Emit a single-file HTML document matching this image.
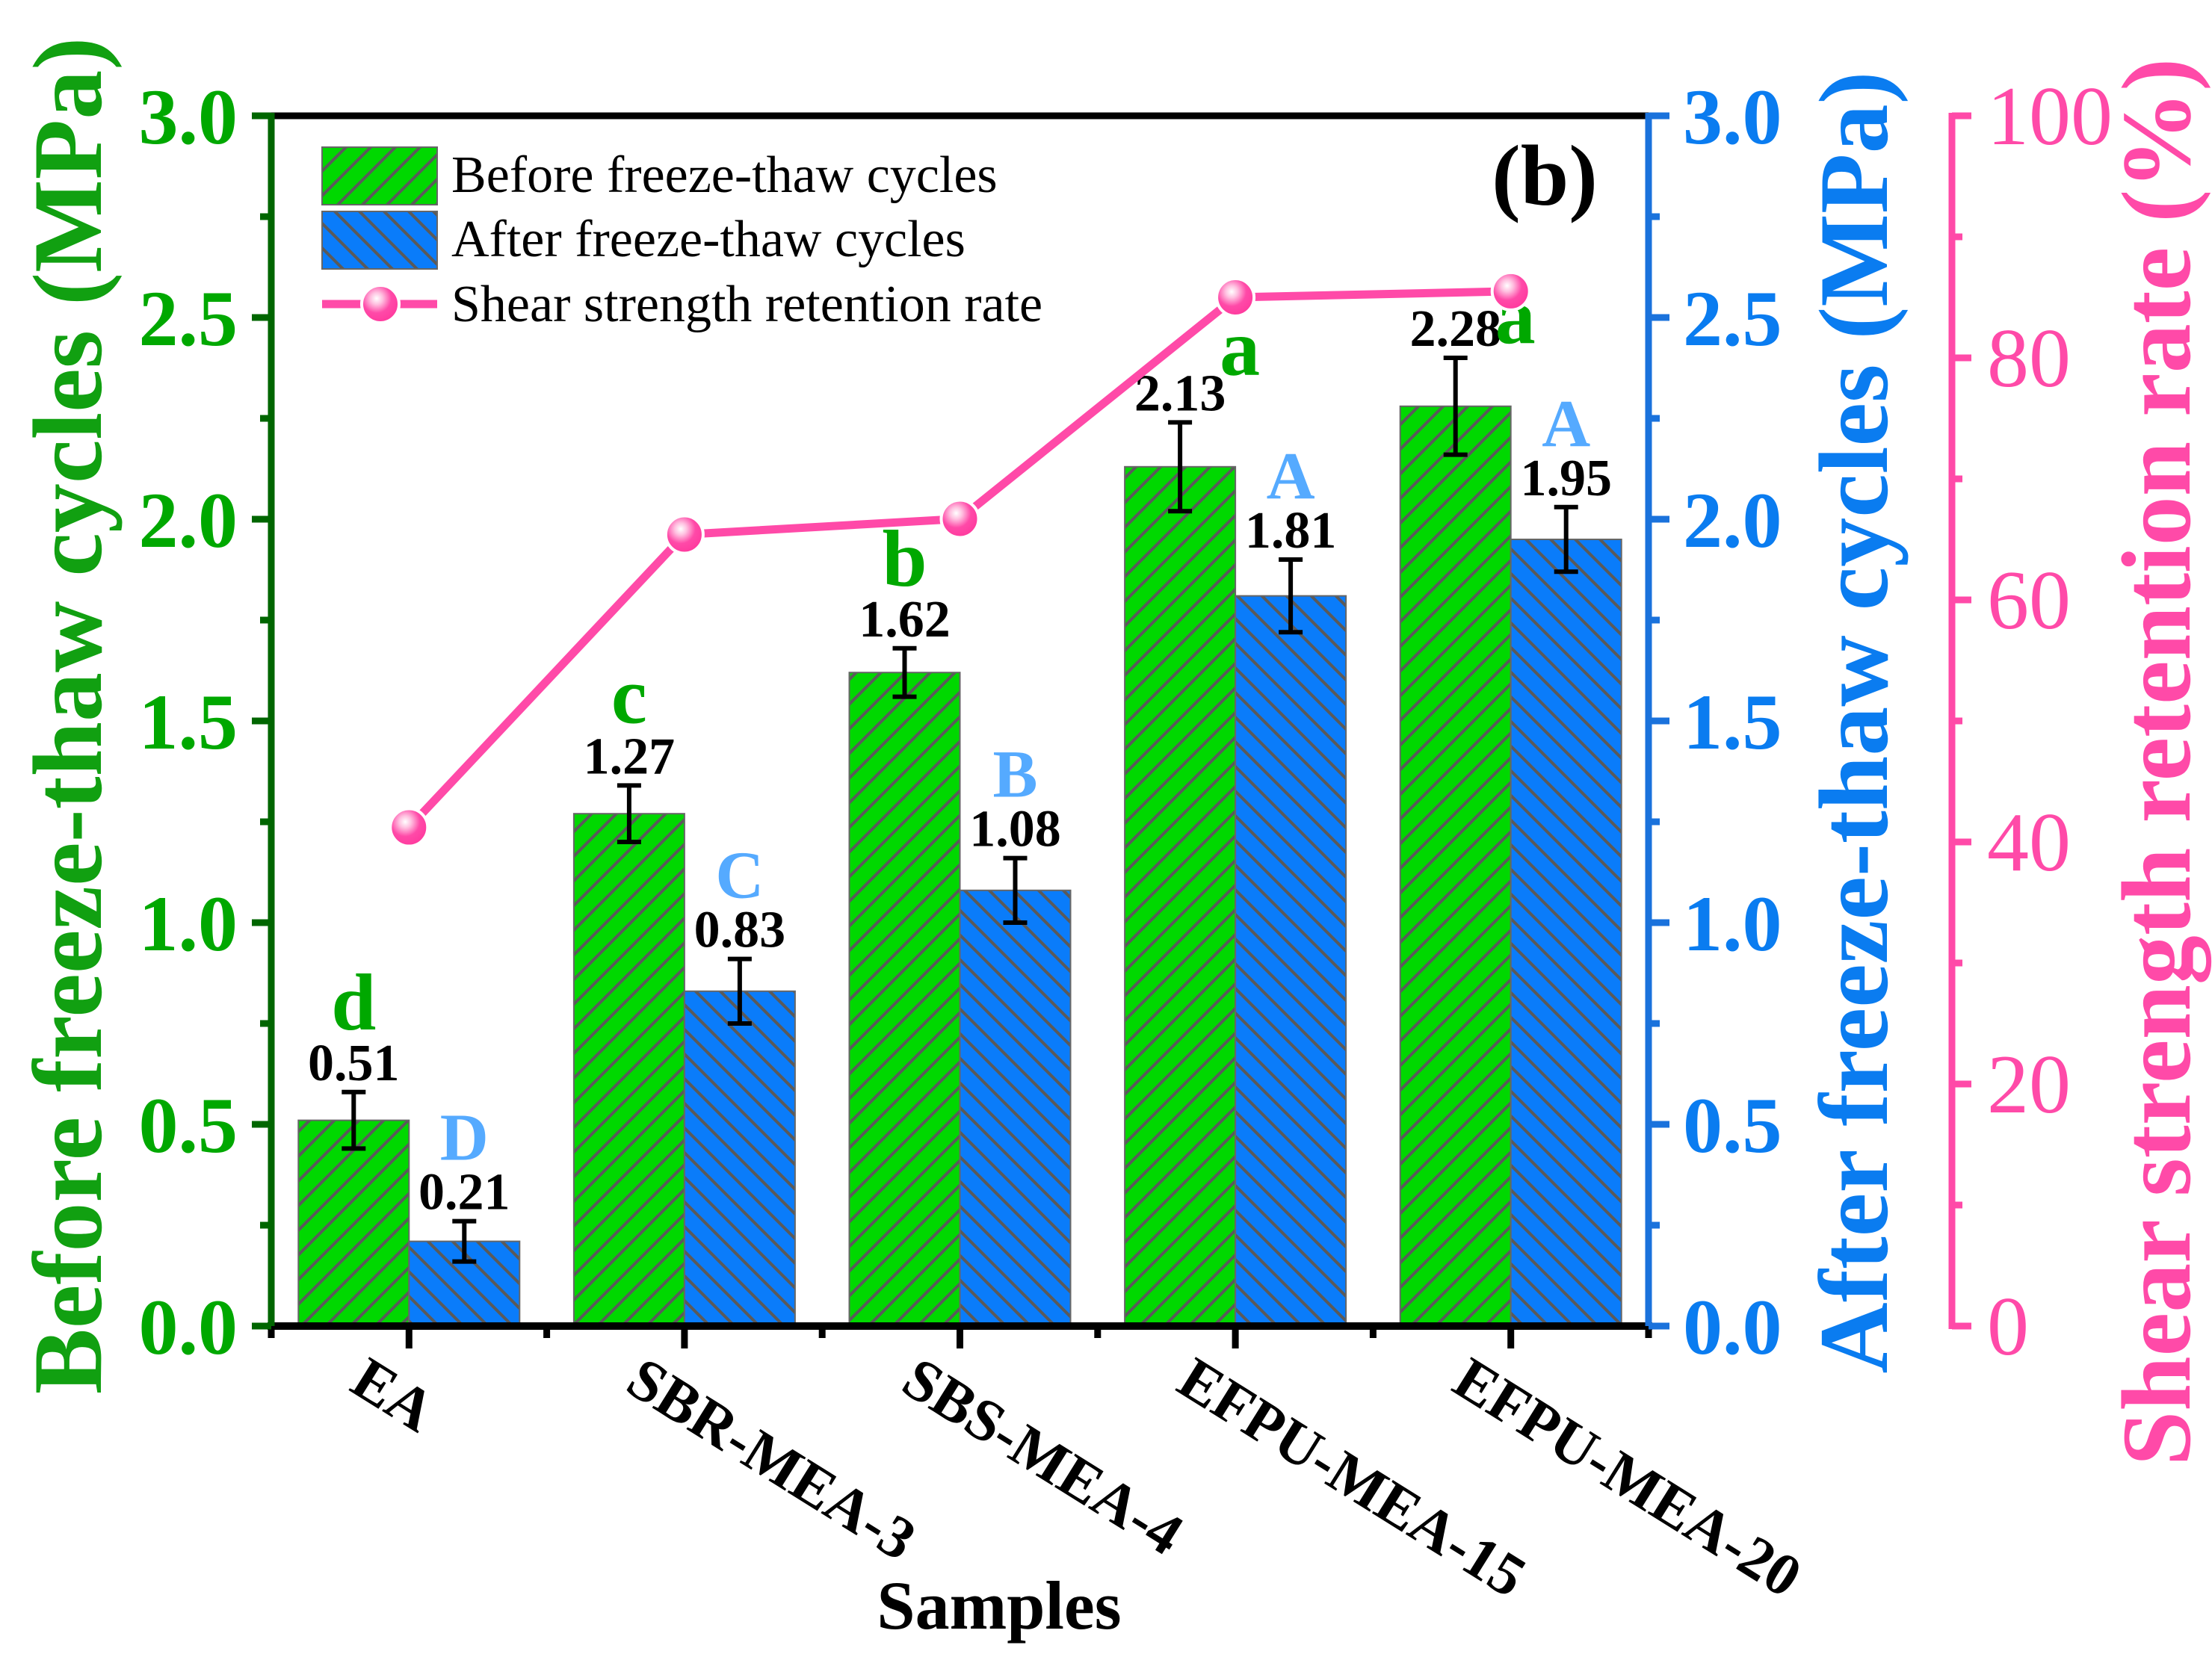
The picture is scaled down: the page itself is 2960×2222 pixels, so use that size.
<!DOCTYPE html>
<html><head><meta charset="utf-8"><style>
html,body{margin:0;padding:0;background:#fff}
svg{display:block;font-family:"Liberation Serif",serif}
</style></head><body>
<svg id="chart" width="2960" height="2222" viewBox="0 0 2960 2222" xmlns="http://www.w3.org/2000/svg">
<defs>
<pattern id="hatchG" patternUnits="userSpaceOnUse" width="33" height="33">
<rect width="33" height="33" fill="#00d800"/>
<path d="M-8,41 L41,-8 M-8,8 L8,-8 M25,41 L41,25" stroke="#5a5a5a" stroke-width="4"/>
</pattern>
<pattern id="hatchB" patternUnits="userSpaceOnUse" width="33" height="33">
<rect width="33" height="33" fill="#0a7cfa"/>
<path d="M-8,-8 L41,41 M25,-8 L41,8 M-8,25 L8,41" stroke="#5a5a5a" stroke-width="4"/>
</pattern>
<radialGradient id="ballGrad" cx="0.4" cy="0.35" r="0.65">
<stop offset="0" stop-color="#ffffff"/>
<stop offset="0.25" stop-color="#ffc0e0"/>
<stop offset="0.6" stop-color="#ff4aa8"/>
<stop offset="1" stop-color="#ff3a9e"/>
</radialGradient>
</defs>
<g id="plot"></g>
</svg>
<script>
const categories = ["EA","SBR-MEA-3","SBS-MEA-4","EFPU-MEA-15","EFPU-MEA-20"];
const beforeValues = [0.51,1.27,1.62,2.13,2.28];
const afterValues = [0.21,0.83,1.08,1.81,1.95];
const beforeErrors = [0.07,0.07,0.06,0.11,0.12];
const afterErrors = [0.05,0.08,0.08,0.09,0.08];
const retentionRates = [41.2,65.4,66.7,85.0,85.5];
const beforeLetters = ["d","c","b","a","a"];
const afterLetters = ["D","C","B","A","A"];
const leftTicks = ["0.0","0.5","1.0","1.5","2.0","2.5","3.0"];
const rightTicks = ["0","20","40","60","80","100"];

const NS="http://www.w3.org/2000/svg";
const g=document.getElementById('plot');
const X0=363,X1=2206,Y0=1775,Y1=155;
const yMax=3.0, rMax=100;
const catW=(X1-X0)/categories.length;
const barW=148;
function xC(i){return X0+(i+0.5)*catW;}
function yL(v){return Y0-(v/yMax)*(Y0-Y1);}
function yR(v){return Y0-(v/rMax)*(Y0-Y1);}
function mk(tag,attrs,text){const e=document.createElementNS(NS,tag);for(const k in attrs)e.setAttribute(k,attrs[k]);if(text!==undefined)e.textContent=text;g.appendChild(e);return e;}

categories.forEach((c,i)=>{
  const cx=xC(i);
  let r=mk('rect',{x:cx-barW,y:yL(beforeValues[i]),width:barW,height:Y0-yL(beforeValues[i]),fill:'url(#hatchG)',stroke:'#666',"stroke-width":2});
  
  
  r=mk('rect',{x:cx,y:yL(afterValues[i]),width:barW,height:Y0-yL(afterValues[i]),fill:'url(#hatchB)',stroke:'#666',"stroke-width":2});
  
  
});
const letterDx=[0,0,0,80,80], letterDyG=[68,68,68,48,4], letterDyA=[66,66,66,66,66];
categories.forEach((c,i)=>{
  [[xC(i)-barW/2,beforeValues[i],beforeErrors[i],beforeLetters[i],'#00a800',108,'before'],
   [xC(i)+barW/2,afterValues[i],afterErrors[i],afterLetters[i],'#55aaff',90,'after']].forEach((d,k)=>{
    const [x,v,e,L,col,fs,nm]=d;
    const top=yL(v+e),bot=yL(v-e);
    let p=mk('path',{d:`M${x},${top}V${bot}M${x-16},${top}H${x+16}M${x-16},${bot}H${x+16}`,stroke:'#000',"stroke-width":6,fill:'none'});
    
    
    const lb=top-16;
    let t=mk('text',{x:x,y:lb,"text-anchor":"middle","font-size":70,"font-weight":"bold",fill:'#000'},v.toFixed(2));
    
    
    const dy=k===0?letterDyG[i]:letterDyA[i];
    const dx=k===0?letterDx[i]:0;
    t=mk('text',{x:x+dx,y:lb-dy,"text-anchor":"middle","font-size":fs,"font-weight":"bold",fill:col},L);
    
    
  });
});
let pts=retentionRates.map((r,i)=>xC(i)+','+yR(r)).join(' ');
let pl=mk('polyline',{points:pts,fill:'none',stroke:'#ff4aa8',"stroke-width":11});


retentionRates.forEach((r,i)=>{
  let c=mk('circle',{cx:xC(i),cy:yR(r),r:25,fill:'url(#ballGrad)',stroke:'#fff',"stroke-width":4});
  
  
});
let ln=mk('line',{x1:X0,y1:Y1,x2:X1,y2:Y1,stroke:'#000',"stroke-width":9});

ln=mk('line',{x1:X0-5,y1:Y0,x2:X1+5,y2:Y0,stroke:'#000',"stroke-width":10});

ln=mk('line',{x1:X0,y1:Y1-4,x2:X0,y2:Y0+4,stroke:'#006600',"stroke-width":9});

ln=mk('line',{x1:X1,y1:Y1-4,x2:X1,y2:Y0+4,stroke:'#1a72dc',"stroke-width":9});

const PX=2612;
ln=mk('line',{x1:PX,y1:Y1-4,x2:PX,y2:Y0+4,stroke:'#ff4aa8',"stroke-width":9});

for(let i=0;i<=categories.length;i++){
  let t=mk('line',{x1:X0+i*catW,y1:Y0,x2:X0+i*catW,y2:Y0+16,stroke:'#000',"stroke-width":9});
  
}
categories.forEach((c,i)=>{
  let t=mk('line',{x1:xC(i),y1:Y0,x2:xC(i),y2:Y0+30,stroke:'#000',"stroke-width":9});
  
  const ox=xC(i)-82, oy=1860;
  t=mk('text',{x:ox,y:oy,"font-size":80,"font-weight":"bold",fill:'#000',transform:`rotate(32 ${ox} ${oy})`},c);
  
});
for(let k=0;k<=12;k++){
  const v=k*0.25,y=yL(v),maj=k%2===0;
  let t=mk('line',{x1:X0,y1:y,x2:X0-(maj?26:15),y2:y,stroke:'#006600',"stroke-width":9});
  
  t=mk('line',{x1:X1,y1:y,x2:X1+(maj?28:15),y2:y,stroke:'#1a72dc',"stroke-width":9});
  
}
leftTicks.forEach(s=>{
  const y=yL(parseFloat(s));
  let t=mk('text',{x:318,y:y+37,"text-anchor":"end","font-size":106,"font-weight":"bold",fill:'#00a800'},s);
  
  t=mk('text',{x:2252,y:y+37,"font-size":106,"font-weight":"bold",fill:'#0a7cf0'},s);
  
});
for(let k=0;k<=10;k++){
  const y=yR(k*10),maj=k%2===0;
  let t=mk('line',{x1:PX,y1:y,x2:PX+(maj?26:14),y2:y,stroke:'#ff4aa8',"stroke-width":9});
  
}
rightTicks.forEach(s=>{
  let t=mk('text',{x:2659,y:yR(parseFloat(s))+38,"font-size":112,fill:'#ff4aa8'},s);
  
});
function title(txt,x,y,col,nm){
  let t=mk('text',{x:x,y:y,"text-anchor":"middle","font-size":132,"font-weight":"bold",fill:col,transform:`rotate(-90 ${x} ${y})`},txt);
  
}
title('Before freeze-thaw cycles (MPa)',135,958,'#11a011','left-y-axis-title');
title('After freeze-thaw cycles (MPa)',2525,967,'#0a7cf0','right-y-axis-title');
title('Shear strength retention rate (%)',2930,1020,'#ff4aa8','retention-axis-title');
let st=mk('text',{x:1337,y:2180,"text-anchor":"middle","font-size":92,"font-weight":"bold",fill:'#000'},'Samples');

st=mk('text',{x:2067,y:274,"text-anchor":"middle","font-size":116,"font-weight":"bold",fill:'#000'},'(b)');

let lr=mk('rect',{x:431,y:197,width:154,height:77,fill:'url(#hatchG)',stroke:'#666',"stroke-width":2});

lr=mk('rect',{x:431,y:283,width:154,height:77,fill:'url(#hatchB)',stroke:'#666',"stroke-width":2});

lr=mk('line',{x1:431,y1:407,x2:585,y2:407,stroke:'#ff4aa8',"stroke-width":11});

lr=mk('circle',{cx:509,cy:407,r:25,fill:'url(#ballGrad)',stroke:'#fff',"stroke-width":4});

[['Before freeze-thaw cycles',257,'legend-label-before'],['After freeze-thaw cycles',343,'legend-label-after'],['Shear strength retention rate',430,'legend-label-retention']].forEach(d=>{
  let t=mk('text',{x:604,y:d[1],"font-size":70,fill:'#000'},d[0]);
  
});
</script>
</body></html>
